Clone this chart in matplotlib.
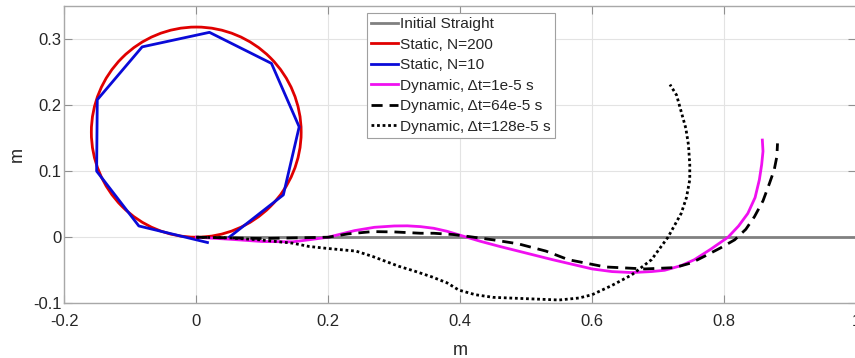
import matplotlib
matplotlib.use("Agg")
import matplotlib.pyplot as plt
from matplotlib.patches import Circle
from matplotlib.lines import Line2D

plt.rcParams['font.family'] = ['Liberation Sans', 'DejaVu Sans']

# Initial straight rod
straight_x = [0.0, 1.0]
straight_y = [0.0, 0.0]

# Static, N=200 (a full circle)
static200_center = (0.0, 0.159)
static200_radius = 0.159

# Static, N=10 polygon vertices
static10_x = [0.017, -0.087, -0.151, -0.150, -0.082, 0.020, 0.114, 0.156, 0.132, 0.050]
static10_y = [-0.008, 0.017, 0.100, 0.208, 0.288, 0.310, 0.263, 0.167, 0.064, 0.000]

# Dynamic, dt = 1e-5 s
dyn1_x = [0.0, 0.05, 0.10, 0.146, 0.17, 0.20, 0.24, 0.27, 0.30, 0.32, 0.34, 0.36, 0.38,
          0.40, 0.43, 0.46, 0.50, 0.54, 0.60, 0.63, 0.66, 0.69, 0.71, 0.735, 0.755, 0.78,
          0.806, 0.822, 0.836, 0.847, 0.8535, 0.857, 0.859, 0.858]
dyn1_y = [0.0, -0.003, -0.0065, -0.007, -0.004, 0.0, 0.010, 0.015, 0.017, 0.0172, 0.016,
          0.0135, 0.009, 0.003, -0.006, -0.014, -0.024, -0.034, -0.048, -0.052, -0.0535,
          -0.052, -0.050, -0.043, -0.034, -0.018, 0.0, 0.017, 0.036, 0.060, 0.087, 0.110,
          0.130, 0.147]

# Dynamic, dt = 64e-5 s
dyn64_x = [0.0, 0.10, 0.20, 0.23, 0.267, 0.30, 0.34, 0.36, 0.39, 0.413, 0.45, 0.488,
           0.53, 0.564, 0.62, 0.68, 0.725, 0.75, 0.77, 0.795, 0.816, 0.833, 0.846,
           0.859, 0.869, 0.876, 0.880, 0.881]
dyn64_y = [0.0, -0.002, 0.0, 0.005, 0.0085, 0.008, 0.006, 0.006, 0.004, 0.001, -0.004,
           -0.010, -0.021, -0.034, -0.045, -0.048, -0.046, -0.039, -0.029, -0.016,
           -0.004, 0.012, 0.031, 0.055, 0.082, 0.102, 0.122, 0.142]

# Dynamic, dt = 128e-5 s
dyn128_x = [0.0, 0.05, 0.096, 0.146, 0.171, 0.196, 0.22, 0.242, 0.267, 0.307, 0.33,
            0.357, 0.38, 0.398, 0.423, 0.45, 0.50, 0.55, 0.58, 0.60, 0.63, 0.66, 0.69,
            0.715, 0.735, 0.743, 0.748, 0.748, 0.746, 0.742, 0.735, 0.728, 0.718]
dyn128_y = [0.0, -0.001, -0.004, -0.009, -0.014, -0.0167, -0.019, -0.021, -0.029, -0.044,
            -0.051, -0.060, -0.069, -0.080, -0.087, -0.091, -0.093, -0.095, -0.092, -0.087,
            -0.073, -0.057, -0.034, 0.0, 0.036, 0.060, 0.087, 0.110, 0.140, 0.165, 0.190,
            0.215, 0.231]

labels = ["Initial Straight", "Static, N=200", "Static, N=10",
          "Dynamic, \u0394t=1e-5 s", "Dynamic, \u0394t=64e-5 s", "Dynamic, \u0394t=128e-5 s"]

xticks = [-0.2, 0, 0.2, 0.4, 0.6, 0.8, 1.0]
xticklabels = ["-0.2", "0", "0.2", "0.4", "0.6", "0.8", "1"]
yticks = [-0.1, 0, 0.1, 0.2, 0.3]
yticklabels = ["-0.1", "0", "0.1", "0.2", "0.3"]

fig = plt.figure(figsize=(8.55, 3.58), dpi=100)
ax = fig.add_axes([0.0752, 0.1528, 0.926, 0.8307])

lw = 2.0
c_gray = '#808080'
c_red = '#e00000'
c_blue = '#0a0ad8'
c_mag = '#f010f0'
dash = (0, (4, 2.5))
dot = (0, (1, 1))

ax.plot(straight_x, straight_y, color=c_gray, lw=lw, zorder=2)
circ = Circle(static200_center, static200_radius, fill=False, edgecolor=c_red, lw=lw, zorder=3)
ax.add_patch(circ)
ax.plot(static10_x, static10_y, color=c_blue, lw=lw, zorder=4)
ax.plot(dyn1_x, dyn1_y, color=c_mag, lw=lw, zorder=5)
ax.plot(dyn64_x, dyn64_y, color='black', lw=lw, ls=dash, zorder=6)
ax.plot(dyn128_x, dyn128_y, color='black', lw=lw, ls=dot, zorder=7)

ax.set_xlim(-0.2, 1.0)
ax.set_ylim(-0.1, 0.35)
ax.set_xticks(xticks)
ax.set_xticklabels(xticklabels)
ax.set_yticks(yticks)
ax.set_yticklabels(yticklabels)

ax.grid(True, color='#e3e3e3', lw=0.8)
ax.set_axisbelow(True)
for s in ax.spines.values():
    s.set_color('#a8a8a8')
    s.set_linewidth(1.0)
ax.tick_params(direction='in', length=6, width=0.8, color='#909090',
               labelsize=12, labelcolor='#262626', top=True, right=True)
ax.tick_params(axis='y', pad=2)
ax.tick_params(axis='x', pad=8)

ax.set_xlabel('m', fontsize=13, color='#262626', labelpad=9)
ax.set_ylabel('m', fontsize=13, color='#262626')
ax.yaxis.set_label_coords(-0.048, 0.5)

handles = [
    Line2D([], [], color=c_gray, lw=lw),
    Line2D([], [], color=c_red, lw=lw),
    Line2D([], [], color=c_blue, lw=lw),
    Line2D([], [], color=c_mag, lw=lw),
    Line2D([], [], color='black', lw=lw, ls=dash),
    Line2D([], [], color='black', lw=lw, ls=dot),
]
leg = ax.legend(handles, labels, loc='upper left', bbox_to_anchor=(0.382, 0.977),
                fontsize=11.1, frameon=True, fancybox=False, framealpha=1,
                edgecolor='#a0a0a0', handlelength=1.7, handletextpad=0.15,
                labelspacing=0.42, borderpad=0.3, borderaxespad=0)
leg.get_frame().set_linewidth(0.8)
for t in leg.get_texts():
    t.set_color('#262626')

fig.savefig('out.png', dpi=100)
